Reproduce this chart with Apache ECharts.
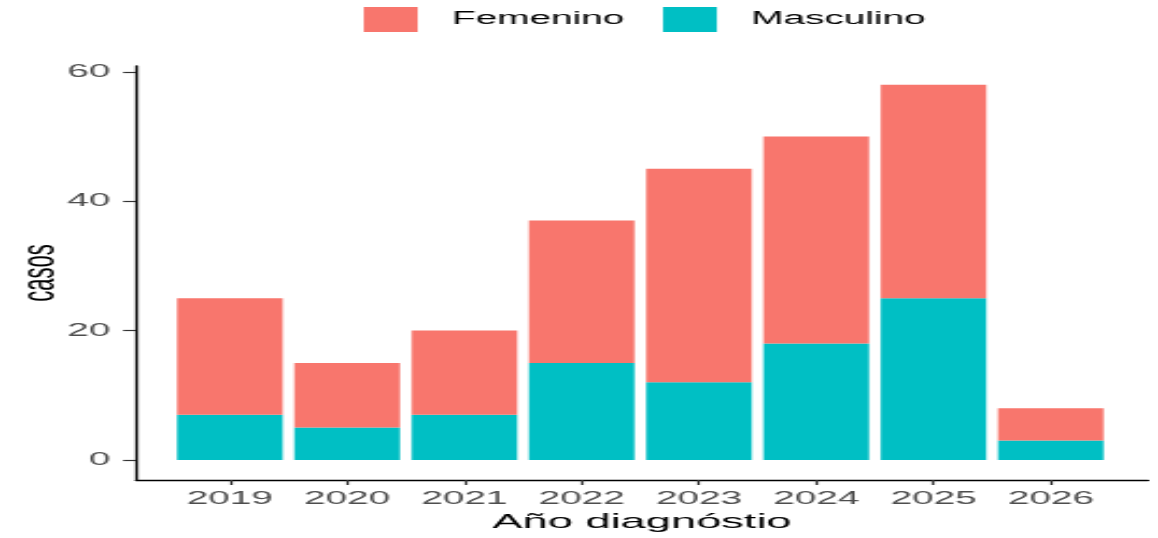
<!DOCTYPE html>
<html>
<head>
<meta charset="utf-8">
<script src="https://cdn.jsdelivr.net/npm/echarts@6/dist/echarts.min.js"></script>
<style>
html,body{margin:0;padding:0;background:#fff;overflow:hidden;}
#main{width:538px;height:538px;transform:scaleX(2.15242);transform-origin:0 0;}
</style>
</head>
<body>
<div id="main"></div>
<script>
const years = ['2019','2020','2021','2022','2023','2024','2025','2026'];
const masculino = [7, 5, 7, 15, 12, 18, 25, 3];
const femenino = [18, 10, 13, 22, 33, 32, 33, 5];
const yTicks = [0, 20, 40, 60];

const idx = years.map((_, i) => i);
const chart = echarts.init(document.getElementById('main'));
const font = 'Liberation Sans, Arial, sans-serif';
const yMin = -3.1, yMax = 60.9;
// outer axis frame: x from -0.8 to 7.83 category units
const xMin = -0.8, xMax = 7.83;
const gL = 63.2, gR = 533.4;
const unit = (gR - gL) / (xMax - xMin);
const innerL = gL + (-0.5 - xMin) * unit;
const innerR = gL + (7.5 - xMin) * unit;
chart.setOption({
  animation: false,
  backgroundColor: '#fff',
  legend: {
    data: ['Femenino', 'Masculino'],
    left: 169, top: 7, padding: 0,
    itemWidth: 25, itemHeight: 25, itemGap: 18,
    icon: 'rect',
    textStyle: { fontFamily: font, fontSize: 18, color: '#000', padding: [0,0,0,11] }
  },
  grid: [
    { left: gL, right: 538 - gR, top: 66, bottom: 58, outerBoundsMode: 'none' },
    { left: innerL, right: 538 - innerR, top: 66, bottom: 58, outerBoundsMode: 'none' }
  ],
  xAxis: [{
    gridIndex: 0, type: 'value', min: xMin, max: xMax,
    name: 'Año diagnóstio', nameLocation: 'middle', nameGap: 32, nameMoveOverlap: false,
    nameTextStyle: { fontFamily: font, fontSize: 21, color: '#000' },
    splitLine: { show: false },
    axisLine: { show: true, onZero: false, lineStyle: { color: '#000', width: 1.3 } },
    axisTick: { show: true, customValues: idx, length: 5, lineStyle: { color: '#333', width: 1.2 } },
    axisLabel: { customValues: idx, formatter: v => years[Math.round(v)], margin: 10,
      fontFamily: font, fontSize: 18, color: '#4D4D4D' }
  }, {
    gridIndex: 1, type: 'category', data: years, boundaryGap: true, show: false
  }],
  yAxis: [{
    gridIndex: 0, type: 'value', min: yMin, max: yMax,
    name: 'casos', nameLocation: 'middle', nameGap: 33, nameRotate: 90, nameMoveOverlap: false,
    nameTextStyle: { fontFamily: font, fontSize: 22, color: '#000' },
    splitLine: { show: false },
    axisLine: { show: true, onZero: false, lineStyle: { color: '#000', width: 1.3 } },
    axisTick: { show: true, customValues: yTicks, length: 6, lineStyle: { color: '#333', width: 1.2 } },
    axisLabel: { customValues: yTicks, margin: 12, fontFamily: font, fontSize: 18, color: '#4D4D4D' }
  }, {
    gridIndex: 1, type: 'value', min: yMin, max: yMax, show: false, splitLine: { show: false }
  }],
  series: [
    { name: 'Masculino', type: 'bar', stack: 'total', xAxisIndex: 1, yAxisIndex: 1, barWidth: '90%',
      itemStyle: { color: '#00BFC4' }, data: masculino },
    { name: 'Femenino', type: 'bar', stack: 'total', xAxisIndex: 1, yAxisIndex: 1, barWidth: '90%',
      itemStyle: { color: '#F8766D' }, data: femenino }
  ]
});
</script>
</body>
</html>
